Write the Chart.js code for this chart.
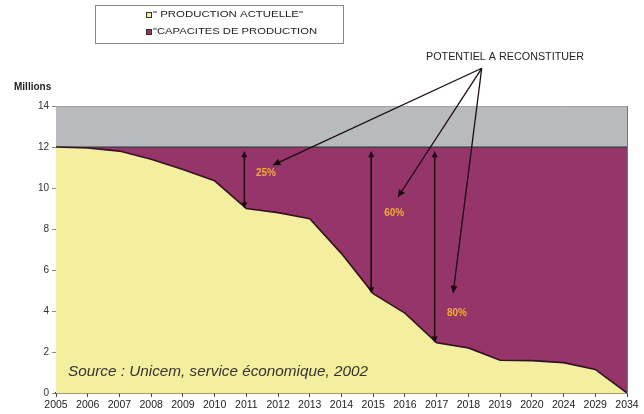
<!DOCTYPE html>
<html>
<head>
<meta charset="utf-8">
<script src="https://cdn.jsdelivr.net/npm/chart.js@4/dist/chart.umd.min.js"></script>
<style>
  html, body { margin: 0; padding: 0; background: #fff; }
  #wrap { width: 644px; height: 414px; }
</style>
</head>
<body>
<div id="wrap"><canvas id="chart" width="644" height="414"></canvas></div>
<script>
// Years on the x axis (note the jump after 2020)
const years = ["2005", "2006", "2007", "2008", "2009", "2010", "2011", "2012", "2013", "2014",
               "2015", "2016", "2017", "2018", "2019", "2020", "2024", "2029", "2034"];

// "Production actuelle" in millions
const production = [12, 11.95, 11.8, 11.4, 10.9, 10.35, 9.0, 8.8, 8.5, 6.8,
                    4.85, 3.9, 2.45, 2.2, 1.6, 1.58, 1.48, 1.15, 0];

// "Capacites de production" (flat)
const capacity = [12, 12, 12, 12, 12, 12, 12, 12, 12, 12, 12, 12, 12, 12, 12, 12, 12, 12, 12];

// top of the plot (grey band)
const ceiling = [14, 14, 14, 14, 14, 14, 14, 14, 14, 14, 14, 14, 14, 14, 14, 14, 14, 14, 14];

const yTicks = [0, 2, 4, 6, 8, 10, 12, 14];

// the three gaps marked with arrows
const gapYears = ["2011", "2015", "2017"];
const gapLabels = ["25%", "60%", "80%"];

const legendLabels = ["\" PRODUCTION ACTUELLE\"", "\"CAPACITES DE PRODUCTION"];

const YELLOW = "#f4ee9f";
const PURPLE = "#963569";
const GREY = "#b9babd";

function arrowHead(ctx, x1, y1, x2, y2, size) {
    const a = Math.atan2(y2 - y1, x2 - x1);
    ctx.beginPath();
    ctx.moveTo(x2, y2);
    ctx.lineTo(x2 - size * Math.cos(a - 0.45), y2 - size * Math.sin(a - 0.45));
    ctx.lineTo(x2 - size * Math.cos(a + 0.45), y2 - size * Math.sin(a + 0.45));
    ctx.closePath();
    ctx.fill();
}

// draw text squeezed/stretched to a given width
function fitText(ctx, text, x, y, width) {
    const w = ctx.measureText(text).width;
    ctx.save();
    ctx.translate(x, y);
    ctx.scale(width / w, 1);
    ctx.fillText(text, 0, 0);
    ctx.restore();
}

const annotations = {
    id: "annotations",
    afterDatasetsDraw(chart) {
        const ctx = chart.ctx;
        const xs = chart.scales.x;
        const ys = chart.scales.y;
        const area = chart.chartArea;

        ctx.save();

        // right edge of the plot
        ctx.strokeStyle = "#777";
        ctx.lineWidth = 1;
        ctx.beginPath();
        ctx.moveTo(area.right + 0.5, area.top);
        ctx.lineTo(area.right + 0.5, area.bottom);
        ctx.stroke();

        // vertical double arrows between capacity and production
        ctx.strokeStyle = "#1a0a10";
        ctx.fillStyle = "#1a0a10";
        ctx.lineWidth = 1.6;
        gapYears.forEach(yr => {
            const i = years.indexOf(yr);
            const x = xs.getPixelForValue(i) - 2;
            const yTop = ys.getPixelForValue(capacity[i]) + 4;
            const yBot = ys.getPixelForValue(production[i]);
            ctx.beginPath();
            ctx.moveTo(x, yTop + 4);
            ctx.lineTo(x, yBot - 4);
            ctx.stroke();
            arrowHead(ctx, x, yBot, x, yTop, 7);
            arrowHead(ctx, x, yTop, x, yBot, 7);
        });

        // pointer lines from the "POTENTIEL" label
        const sx = xs.getPixelForValue(13.42), sy = ys.getPixelForValue(15.84);
        const targets = [[6.84, 11.12], [10.78, 9.56], [12.52, 4.88]];
        ctx.lineWidth = 1.3;
        targets.forEach(t => {
            const tx = xs.getPixelForValue(t[0]);
            const ty = ys.getPixelForValue(t[1]);
            ctx.beginPath();
            ctx.moveTo(sx, sy);
            ctx.lineTo(tx, ty);
            ctx.stroke();
            arrowHead(ctx, sx, sy, tx, ty, 8);
        });

        // percentage labels
        const labelPos = [[6.62, 10.73], [10.66, 8.78], [12.64, 3.9]];
        ctx.fillStyle = "#f2ab35";
        ctx.font = "bold 10px Arial, 'Liberation Sans', sans-serif";
        ctx.textAlign = "center";
        ctx.textBaseline = "middle";
        gapLabels.forEach((lab, k) => {
            ctx.fillText(lab, xs.getPixelForValue(labelPos[k][0]), ys.getPixelForValue(labelPos[k][1]));
        });

        // source note
        ctx.fillStyle = "#333";
        ctx.font = "italic 15px Arial, 'Liberation Sans', sans-serif";
        ctx.textAlign = "left";
        fitText(ctx, "Source : Unicem, service économique, 2002", area.left + 12, ys.getPixelForValue(1.05), 300);

        // "POTENTIEL A RECONSTITUER"
        ctx.fillStyle = "#222";
        ctx.font = "10px Arial, 'Liberation Sans', sans-serif";
        fitText(ctx, "POTENTIEL A RECONSTITUER", 426, 57, 158);

        // "Millions"
        ctx.font = "bold 10px Arial, 'Liberation Sans', sans-serif";
        ctx.fillStyle = "#222";
        ctx.fillText("Millions", 14, 87);

        // legend box
        ctx.strokeStyle = "#888";
        ctx.lineWidth = 1;
        ctx.strokeRect(95.5, 5.5, 248, 38);
        const swatches = [YELLOW, PURPLE];
        ctx.font = "9px Arial, 'Liberation Sans', sans-serif";
        const rowY = [15, 32];
        const widths = [150, 164];
        legendLabels.forEach((lab, k) => {
            ctx.fillStyle = swatches[k];
            ctx.fillRect(146, rowY[k] - 3, 6, 6);
            ctx.strokeStyle = "#333";
            ctx.strokeRect(146.5, rowY[k] - 2.5, 5, 5);
            ctx.fillStyle = "#222";
            fitText(ctx, lab, 153, rowY[k], widths[k]);
        });

        ctx.restore();
    }
};

const chart = new Chart(document.getElementById("chart").getContext("2d"), {
    type: "line",
    data: {
        labels: years,
        datasets: [
            {
                label: legendLabels[0],
                data: production,
                borderColor: "#2b1a14",
                borderWidth: 1.6,
                backgroundColor: YELLOW,
                fill: "origin",
                pointRadius: 0,
                tension: 0
            },
            {
                label: legendLabels[1],
                data: capacity,
                borderColor: "#3a3035",
                borderWidth: 1,
                backgroundColor: PURPLE,
                fill: "-1",
                pointRadius: 0,
                tension: 0
            },
            {
                label: "plafond",
                data: ceiling,
                borderColor: "#888",
                borderWidth: 1,
                backgroundColor: GREY,
                fill: "-1",
                pointRadius: 0,
                tension: 0
            }
        ]
    },
    options: {
        responsive: false,
        animation: false,
        layout: { padding: { left: 0, right: 17, top: 106, bottom: 0 } },
        plugins: {
            legend: { display: false },
            tooltip: { enabled: false }
        },
        scales: {
            x: {
                type: "category",
                offset: false,
                grid: { drawOnChartArea: false, drawTicks: true, tickLength: 4, color: "#444" },
                border: { color: "#333", width: 1.5 },
                ticks: {
                    color: "#222",
                    font: { family: "Arial, 'Liberation Sans', sans-serif", size: 10.5 },
                    maxRotation: 0,
                    autoSkip: false,
                    padding: 2
                },
                afterFit: scale => { scale.height = 21; }
            },
            y: {
                min: 0,
                max: 14,
                afterBuildTicks: scale => { scale.ticks = yTicks.map(v => ({ value: v })); },
                grid: { drawOnChartArea: false, drawTicks: true, tickLength: 4, color: "#888" },
                border: { color: "#666", width: 1 },
                ticks: {
                    color: "#333",
                    font: { family: "Arial, 'Liberation Sans', sans-serif", size: 10 },
                    padding: 3
                },
                afterFit: scale => { scale.width = 56; }
            }
        }
    },
    plugins: [annotations]
});
</script>
</body>
</html>
